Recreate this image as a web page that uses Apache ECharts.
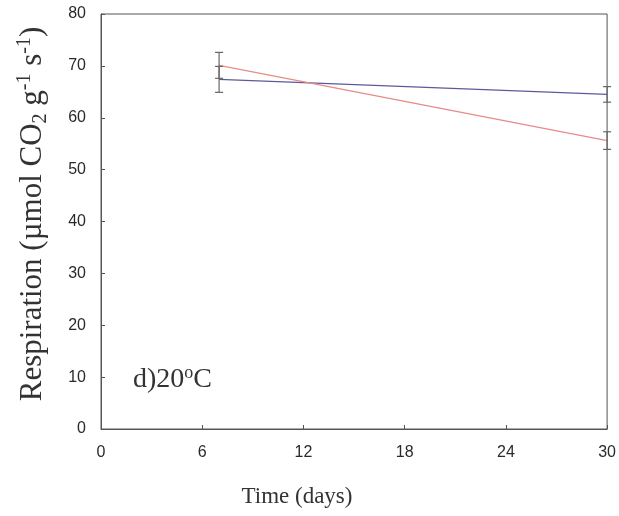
<!DOCTYPE html>
<html><head><meta charset="utf-8">
<script src="https://cdn.jsdelivr.net/npm/echarts@6/dist/echarts.min.js"></script>
<style>html,body{margin:0;padding:0;background:#fff}#c{width:619px;height:516px}</style>
</head><body><div id="c"></div>
<script>
const days = [7, 30];
const blueMean = [67.4, 64.5];
const blueErr = [2.5, 1.5];
const redMean = [70.1, 55.6];
const redErr = [2.5, 1.7];
const xTicks = [0, 6, 12, 18, 24, 30];
const yTicks = [0, 10, 20, 30, 40, 50, 60, 70, 80];

const chart = echarts.init(document.getElementById('c'));
function errData(mean, err) {
  return days.map((d, i) => [d, mean[i] - err[i], mean[i] + err[i]]);
}
function errSeries(mean, err) {
  return {
    type: 'custom',
    data: errData(mean, err),
    renderItem: function (params, api) {
      const lo = api.coord([api.value(0), api.value(1)]);
      const hi = api.coord([api.value(0), api.value(2)]);
      const w = 4;
      const st = { stroke: '#666', lineWidth: 1.2 };
      return {
        type: 'group',
        children: [
          { type: 'line', shape: { x1: lo[0], y1: lo[1], x2: hi[0], y2: hi[1] }, style: st },
          { type: 'line', shape: { x1: lo[0] - w, y1: lo[1], x2: lo[0] + w, y2: lo[1] }, style: st },
          { type: 'line', shape: { x1: hi[0] - w, y1: hi[1], x2: hi[0] + w, y2: hi[1] }, style: st }
        ]
      };
    },
    z: 3,
    silent: true
  };
}
const axisCommon = {
  axisLine: { show: true, lineStyle: { color: '#555', width: 1 } },
  axisTick: { show: true, inside: true, length: 4, lineStyle: { color: '#555' } },
  splitLine: { show: false },
  axisLabel: { color: '#2a2a2a', fontFamily: 'Liberation Sans', fontSize: 16 }
};
chart.setOption({
  animation: false,
  backgroundColor: '#fff',
  grid: { left: 101, right: 11, top: 14, bottom: 87, show: true, borderColor: '#555', borderWidth: 1 },
  xAxis: Object.assign({}, axisCommon, {
    type: 'value', min: 0, max: 30, interval: 6,
    axisLabel: Object.assign({}, axisCommon.axisLabel, { margin: 16,
      formatter: v => xTicks.includes(v) ? String(v) : '' })
  }),
  yAxis: Object.assign({}, axisCommon, {
    type: 'value', min: 0, max: 80, interval: 10,
    axisLabel: Object.assign({}, axisCommon.axisLabel, { margin: 15,
      formatter: v => yTicks.includes(v) ? String(v) : '' })
  }),
  series: [
    { type: 'line', data: days.map((d, i) => [d, blueMean[i]]), symbol: 'none',
      lineStyle: { color: '#5a5a9c', width: 1.3 }, z: 2 },
    { type: 'line', data: days.map((d, i) => [d, redMean[i]]), symbol: 'none',
      lineStyle: { color: '#e88a8a', width: 1.3 }, z: 2 },
    errSeries(blueMean, blueErr),
    errSeries(redMean, redErr)
  ],
  graphic: [
    { type: 'text', x: 297, y: 497, style: { text: 'Time (days)', font: '23px "Liberation Serif"', fill: '#333', align: 'center', verticalAlign: 'middle' } },
    { type: 'text', x: 133, y: 380, style: { text: 'd)20{sup|o}C', font: '28px "Liberation Serif"', fill: '#333', align: 'left', verticalAlign: 'middle',
      lineHeight: 32,
      rich: { sup: { font: '18px "Liberation Serif"', fill: '#333', verticalAlign: 'top', lineHeight: 32 } } } },
    { type: 'text', x: 33, y: 214, rotation: Math.PI / 2,
      style: {
        text: 'Respiration (\u00B5mol CO{sub|2} g{sup|-1} s{sup|-1})',
        font: '31px "Liberation Serif"', fill: '#333', align: 'center', verticalAlign: 'middle',
        lineHeight: 36,
        rich: {
          sub: { font: '20px "Liberation Serif"', fill: '#333', verticalAlign: 'bottom', lineHeight: 36 },
          sup: { font: '20px "Liberation Serif"', fill: '#333', verticalAlign: 'top', lineHeight: 36 }
        }
      } }
  ]
});
</script></body></html>
